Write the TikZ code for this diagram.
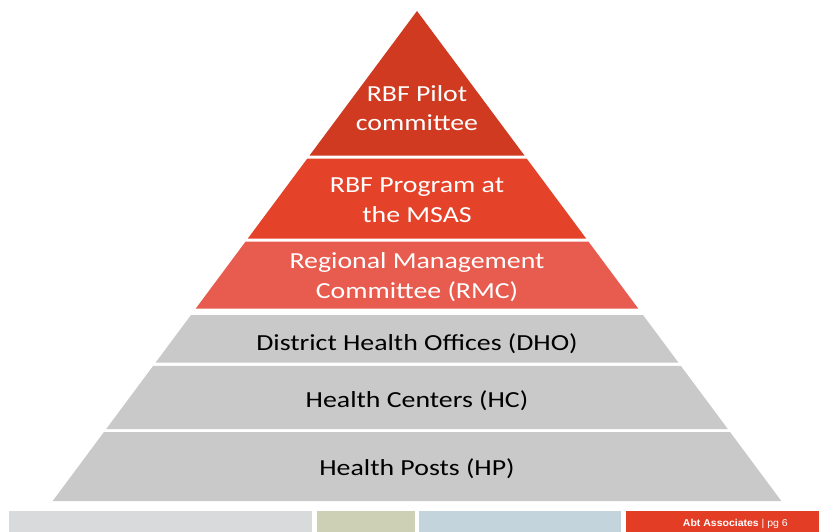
\documentclass[tikz,border=0pt]{standalone}
\usepackage{fontspec}
\setmainfont{Carlito}[FakeStretch=1.21]
\newfontfamily\footfont{Liberation Sans}[FakeStretch=1.05]
\definecolor{tierone}{HTML}{CF3A20}
\definecolor{tiertwo}{HTML}{E4432A}
\definecolor{tierthree}{HTML}{E75C4F}
\definecolor{tiergrey}{HTML}{C9C9C9}
\definecolor{barA}{HTML}{D9DADC}
\definecolor{barB}{HTML}{CDD0B5}
\definecolor{barC}{HTML}{C3D4DC}
\definecolor{barD}{HTML}{E43D25}
% one horizontal slice of the pyramid, apex at (417,11)
\newcommand\pyrslice[3]{%
  \fill[#3] ({417-0.7435*(#1-11)},#1) -- ({417+0.7435*(#1-11)},#1)
    -- ({417+0.7435*(#2-11)},#2) -- ({417-0.7435*(#2-11)},#2) -- cycle;}
\begin{document}
\begin{tikzpicture}[x=1pt,y=-1pt,
  tiertext/.style={font=\fontsize{23}{29.5}\selectfont,align=center,inner sep=0pt},
  lighttext/.style={tiertext,text=white},
  darktext/.style={tiertext,text=black}]
\useasboundingbox (0,0) rectangle (819,532);
\fill[white] (0,0) rectangle (819,532);
% pyramid slices
\pyrslice{11}{155.5}{tierone}
\pyrslice{158.7}{238.7}{tiertwo}
\pyrslice{241.7}{308.5}{tierthree}
\pyrslice{315}{362.7}{tiergrey}
\pyrslice{365.8}{429}{tiergrey}
\pyrslice{432}{501}{tiergrey}
% labels
\node[lighttext] (pilot) at (417,108) {RBF Pilot\\committee};
\node[lighttext] (prog) at (417,200) {RBF Program at\\the MSAS};
\node[lighttext] (rmc) at (417,277) {Regional Management\\Committee (RMC)};
\node[darktext] (dho) at (417,344) {District Health Offices (DHO)};
\node[darktext] (hc) at (417,401) {Health Centers (HC)};
\node[darktext] (hp) at (417,469) {Health Posts (HP)};
% footer band
\fill[barA] (9,510.5) rectangle (312,532);
\fill[barB] (317,510.5) rectangle (415,532);
\fill[barC] (419,510.5) rectangle (620.5,532);
\fill[barD] (625.7,510.5) rectangle (819,532);
\node[anchor=east,text=white,inner sep=0pt,font=\footfont\fontsize{10}{12}\selectfont] (foot) at (788,523.5) {\textbf{Abt Associates} | pg 6};
\end{tikzpicture}
\end{document}
